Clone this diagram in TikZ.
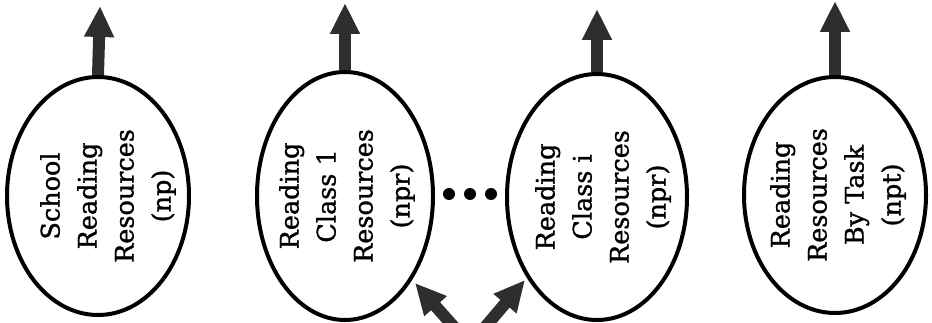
\documentclass[tikz,border=0pt]{standalone}
\usepackage{fontspec}
\setmainfont{DejaVu Serif}
\newfontfamily\labfont{DejaVu Serif}[FakeBold=1.2]
\usetikzlibrary{shapes.geometric,arrows.meta}
\begin{document}
\begin{tikzpicture}[x=1pt,y=-1pt,
  oval/.style={draw=black, line width=4pt, ellipse, inner sep=0pt},
  label/.style={rotate=90, align=center, font=\labfont\fontsize{25.5}{37}\selectfont, inner sep=0pt},
  bigarrow/.style={line width=12pt, draw=black!82, -{Triangle[width=28pt,length=31pt]}},
  dot/.style={circle, fill=black, inner sep=0pt, minimum size=12pt}
]
\useasboundingbox (0,0) rectangle (932,323);
\clip (0,0) rectangle (932,323);

\node[oval, minimum width=182pt, minimum height=238pt] (e1) at (98,196) {};
\node[oval, minimum width=176pt, minimum height=248pt] (e2) at (345,196) {};
\node[oval, minimum width=180pt, minimum height=246pt] (e3) at (597,197) {};
\node[oval, minimum width=182pt, minimum height=236pt] (e4) at (835,195) {};

\node[label] (l1) at (108,196) {School\\Reading\\Resources\\(np)};
\node[label] (l2) at (347,196) {Reading\\Class 1\\Resources\\(npr)};
\node[label] (l3) at (603,197) {Reading\\Class i\\Resources\\(npr)};
\node[label] (l4) at (838,195) {Reading\\Resources\\By Task\\(npt)};

\coordinate (t1) at (100,6);
\coordinate (t2) at (345,3);
\coordinate (t3) at (597,9);
\coordinate (t4) at (835,1);
\draw[bigarrow] (e1.north) -- (t1);
\draw[bigarrow] (e2.north) -- (t2);
\draw[bigarrow] (e3.north) -- (t3);
\draw[bigarrow] (e4.north) -- (t4);

\node[dot] (d1) at (449,194) {};
\node[dot] (d2) at (470,194) {};
\node[dot] (d3) at (491,194) {};

\coordinate (src) at (470,345);
\coordinate (ha) at (415,283);
\coordinate (hb) at (525,280);
\draw[bigarrow] (src) -- (ha);
\draw[bigarrow] (src) -- (hb);
\end{tikzpicture}
\end{document}
